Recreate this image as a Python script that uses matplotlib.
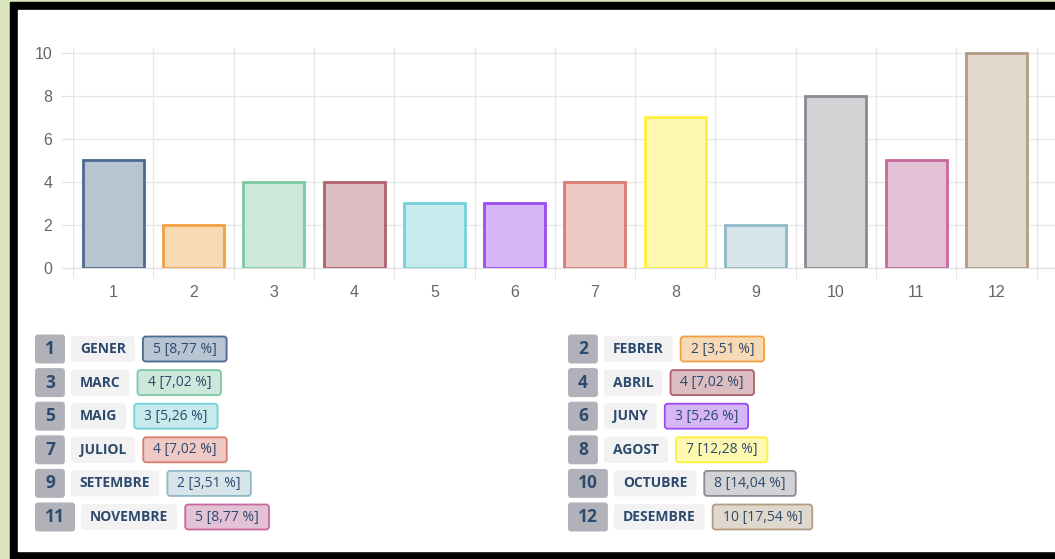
import matplotlib
matplotlib.use("Agg")
import matplotlib.pyplot as plt
from matplotlib.patches import Rectangle, FancyBboxPatch

months = ["GENER", "FEBRER", "MARC", "ABRIL", "MAIG", "JUNY",
          "JULIOL", "AGOST", "SETEMBRE", "OCTUBRE", "NOVEMBRE", "DESEMBRE"]
values = [5, 2, 4, 4, 3, 3, 4, 7, 2, 8, 5, 10]
percents = ["8,77", "3,51", "7,02", "7,02", "5,26", "5,26",
            "7,02", "12,28", "3,51", "14,04", "8,77", "17,54"]
edge_colors = ["#4b6a8f", "#f1a043", "#7dc9a5", "#b0606a", "#72d2d8", "#9a4cf2",
               "#d97b70", "#fff03a", "#8fb9c7", "#8b8b93", "#c9679f", "#b39b84"]
fill_colors = ["#b8c4d2", "#f8d9b5", "#cbe8db", "#dcbdc1", "#c7ebed", "#d6b6f6",
               "#efc9c4", "#fff8b0", "#d7e5ea", "#d3d3d6", "#e3c2d6", "#e0d7cd"]

W, H = 1055, 559
fig = plt.figure(figsize=(W / 100, H / 100), dpi=100)
fig.patch.set_facecolor("#dae4bd")

# frame
bg = fig.add_axes([0, 0, 1, 1], zorder=0)
bg.set_xlim(0, W)
bg.set_ylim(H, 0)
bg.axis("off")
bg.add_patch(Rectangle((10, 2), W, H, color="black"))
bg.add_patch(Rectangle((18, 10), W, 541, color="white"))

# bar chart
ax = fig.add_axes([73 / W, (H - 268) / H, (W - 73) / W, 220 / H], zorder=2)
ax.patch.set_alpha(0)
x = list(range(1, 13))
ax.bar(x, values, width=0.76, color=fill_colors, edgecolor=edge_colors,
       linewidth=2, zorder=3)
ax.set_xlim(0.5, 0.5 + (W - 73) / 80.3)
ax.set_ylim(0, 10.23)
ax.set_yticks([0, 2, 4, 6, 8, 10])
ax.set_xticks(x)
ax.set_xticklabels([str(i) for i in x])
ax.set_xticks([i + 0.5 for i in range(0, 13)], minor=True)
ax.grid(True, axis="y", color="#e8e8e8", linewidth=1, zorder=0)
ax.grid(True, axis="x", which="minor", color="#e8e8e8", linewidth=1, zorder=0)
ax.tick_params(axis="x", which="major", length=0, pad=12,
               labelsize=11.5, labelcolor="#666666")
ax.tick_params(axis="x", which="minor", length=7, color="#e0e0e0")
ax.tick_params(axis="y", length=9, color="#e0e0e0", pad=6,
               labelsize=11.5, labelcolor="#666666")
for lab in ax.get_xticklabels() + ax.get_yticklabels():
    lab.set_fontfamily("Liberation Sans")
for side in ["top", "right"]:
    ax.spines[side].set_visible(False)
ax.spines["left"].set_visible(False)
ax.spines["bottom"].set_color("#e0e0e0")

# legend
renderer = fig.canvas.get_renderer()
text_color = "#2c4a6d"
font = "Open Sans"


def text_width(t, size, weight="bold"):
    tx = bg.text(0, 0, t, fontsize=size, fontweight=weight, fontfamily=font)
    w = tx.get_window_extent(renderer=renderer).width
    tx.remove()
    return w


def box(x0, yc, w, h, face, edge, lw):
    bg.add_patch(FancyBboxPatch((x0 + 3, yc - h / 2 + 3), w - 6, h - 6,
                                boxstyle="round,pad=3", facecolor=face,
                                edgecolor=edge, linewidth=lw, zorder=2))


row_y0 = 349
row_step = 33.6
for i, (name, v, p) in enumerate(zip(months, values, percents)):
    col = i % 2
    row = i // 2
    yc = row_y0 + row * row_step
    x0 = 35 if col == 0 else 568
    num = str(i + 1)
    nw = max(29, text_width(num, 12.5) + 20)
    box(x0, yc, nw, 29, "#b1b2b9", "none", 0)
    bg.text(x0 + nw / 2, yc, num, fontsize=12.5, fontweight="bold",
            fontfamily=font, color=text_color, ha="center", va="center", zorder=3)
    x1 = x0 + nw + 6
    mw = text_width(name, 10) + 18
    box(x1, yc, mw, 26, "#f2f2f2", "none", 0)
    bg.text(x1 + mw / 2, yc, name, fontsize=10, fontweight="bold",
            fontfamily=font, color=text_color, ha="center", va="center", zorder=3)
    x2 = x1 + mw + 8
    label = f"{v} [{p} %]"
    vw = text_width(label, 10, "normal") + 20
    box(x2, yc, vw, 25, fill_colors[i], edge_colors[i], 1.3)
    bg.text(x2 + vw / 2, yc, label, fontsize=10, fontfamily=font,
            color=text_color, ha="center", va="center", zorder=3)

fig.savefig("out.png", dpi=100, facecolor=fig.get_facecolor())
